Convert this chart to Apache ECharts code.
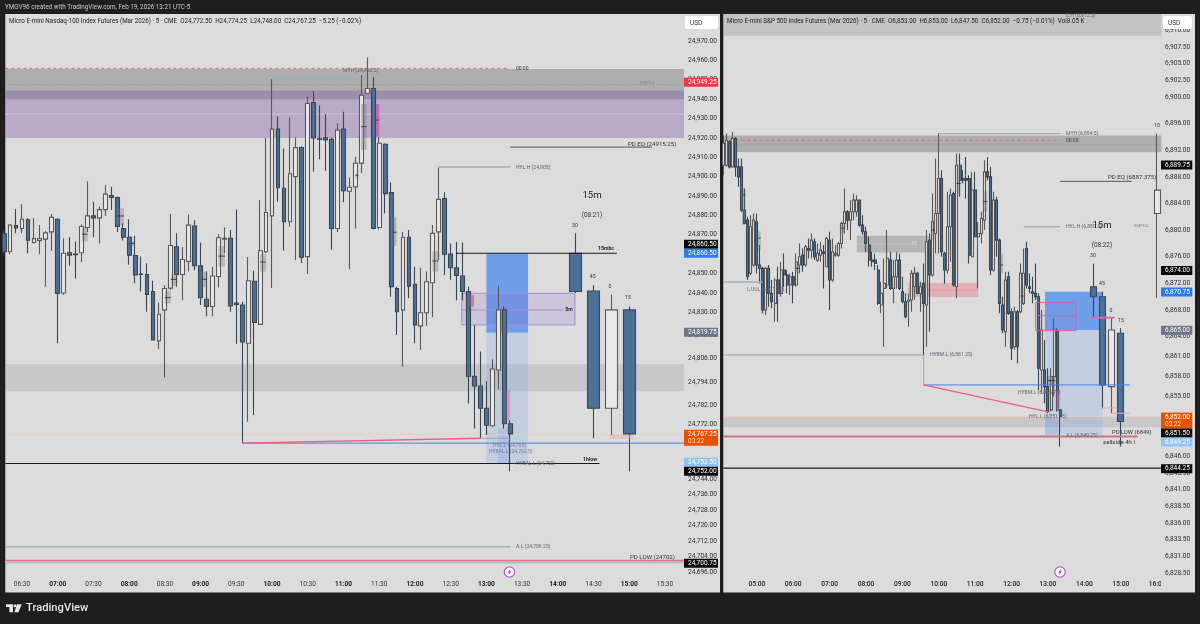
<!DOCTYPE html>
<html><head><meta charset="utf-8">
<style>html,body{margin:0;padding:0;background:#1e1e1e}#c{width:1200px;height:624px}</style>
<script src="https://cdn.jsdelivr.net/npm/echarts@6/dist/echarts.min.js"></script>
</head><body><div id="c"></div>
<script>
// time, open, close, low, high
const nqBars = [
['06:15',24870.5,24861.25,24859.5,24872.5],['06:20',24861.25,24875,24860,24875.5],['06:25',24874.75,24873.5,24870.75,24883.25],['06:30',24873.25,24878,24870.75,24885.75],
['06:35',24877.75,24867.25,24860.5,24878.5],['06:40',24866,24868,24865.5,24878.5],['06:45',24867,24868,24860,24875],['06:50',24867.75,24871,24843.25,24872],
['06:55',24871.5,24879,24861.75,24880.75],['07:00',24878,24839.75,24814,24878.5],['07:05',24840,24860.5,24839,24868.25],['07:10',24860.75,24859.5,24854,24868.75],
['07:15',24860,24859.75,24847.5,24866.5],['07:20',24860.75,24874.25,24856,24875.5],['07:25',24873.75,24879.75,24871.5,24897.5],['07:30',24879.75,24878.75,24868.75,24887],
['07:35',24878.75,24883,24865.5,24884.5],['07:40',24883,24891,24879.75,24895.75],['07:45',24890.25,24889.25,24882.75,24894.75],['07:50',24889.25,24874.25,24871.5,24889.75],
['07:55',24873.25,24868.75,24867,24876],['08:00',24868.75,24859.5,24854.5,24878],['08:05',24859.25,24849.25,24845,24869.5],['08:10',24849.75,24849.5,24840.75,24858.75],
['08:15',24849.5,24839.25,24830.25,24855.25],['08:20',24840.75,24815.75,24815.75,24846.25],['08:25',24815.25,24829,24811,24835],['08:30',24831.25,24842.25,24796.5,24844],
['08:35',24842.5,24864.5,24841.5,24880.75],['08:40',24863.75,24849.5,24843.25,24870.75],['08:45',24849.5,24857.25,24836.25,24863.75],['08:50',24856.25,24875,24851,24880.5],
['08:55',24874.5,24854,24851.75,24877.5],['09:00',24854,24837.5,24833.75,24866],['09:05',24836.75,24833,24828,24851],['09:10',24833,24848.75,24828,24853.5],
['09:15',24848.5,24868.5,24842.75,24870.25],['09:20',24867.75,24868.25,24860.5,24873.75],['09:25',24868.25,24833.25,24830.25,24872.5],['09:30',24834.75,24834,24813.75,24883],
['09:35',24833.75,24814.75,24762.5,24835.5],['09:40',24814,24846.25,24773.5,24858.5],['09:45',24846,24824.75,24777,24851.5],['09:50',24823.75,24861.75,24823.5,24888],
['09:55',24861.25,24881.5,24860.5,24920],['10:00',24879.75,24924.5,24842.5,24950.25],['10:05',24924.5,24894.25,24887,24931],['10:10',24894,24876.75,24861.75,24914.5],
['10:15',24876.75,24901.5,24874.25,24930.5],['10:20',24900,24915,24857,24920.25],['10:25',24915,24858.5,24855.5,24915.75],['10:30',24858.75,24937.75,24849.75,24941.25],
['10:35',24938.25,24920,24902.5,24944.25],['10:40',24919.5,24919.25,24909,24936.75],['10:45',24920,24919,24903,24932.25],['10:50',24919.25,24873.25,24862.25,24920.25],
['10:55',24873.25,24924,24871.5,24927.5],['11:00',24924.5,24892.75,24886.75,24933.5],['11:05',24892.5,24894.5,24852.25,24899.5],['11:10',24894.75,24907,24873.25,24910.25],
['11:15',24907,24942,24901.75,24952.5],['11:20',24943,24945.5,24942.75,24961.5],['11:25',24945.5,24873.25,24872.75,24951.25],['11:30',24873.75,24917.25,24872.75,24920.5],
['11:35',24916.75,24891.25,24881,24917.25],['11:40',24891.75,24843.25,24838,24897],['11:45',24842.25,24830.25,24818.25,24843.25],['11:50',24831.25,24868.75,24802,24871.5],
['11:55',24868.75,24843.5,24837.25,24872.5],['12:00',24844.5,24823.5,24814,24853.5],['12:05',24823,24829.75,24810.5,24853],['12:10',24829.75,24845.75,24823,24851],
['12:15',24845.25,24870.75,24827.5,24875],['12:20',24871.5,24888.25,24857,24904.75],['12:25',24888.75,24860,24849.25,24892],['12:30',24860,24853,24846.75,24865.5],
['12:35',24853,24849,24836.25,24866.25],['12:40',24848.75,24840.75,24836.25,24866],['12:45',24840.75,24797,24783,24843.25],['12:50',24797,24792,24770,24823.5],
['12:55',24792,24780.5,24765,24809.75],['13:00',24780.5,24771.75,24766.75,24794.25],['13:05',24771.5,24800.75,24771,24805.75],['13:10',24800.25,24831.25,24790.25,24844],
['13:15',24831.25,24772.5,24770,24833],['13:20',24772.5,24767.25,24748,24774.25]
];
const nqBars15m = [
['14:15',24860.5,24840.75,24840,24870.75],['14:30',24841,24780.5,24765,24844],['14:45',24780.5,24831.25,24766.75,24839],['15:00',24831.25,24767.25,24748,24833]
];
const esBars = [
['04:05',6889.75,6893,6888.25,6894.25],['04:10',6889.75,6893.5,6889.5,6894.5],['04:15',6893.25,6889.5,6889.25,6893.5],['04:20',6889.5,6893.75,6889.5,6894.75],
['04:25',6893.75,6889.5,6888,6894],['04:30',6889.5,6888,6886.5,6890.75],['04:35',6889.5,6883,6882.75,6890.75],['04:40',6883,6881,6881,6886.25],
['04:45',6881.5,6873,6872.5,6882],['04:50',6873.5,6880.5,6873.25,6882.25],['04:55',6874.75,6881.5,6874.5,6882.5],['05:00',6881.25,6874.75,6873.5,6882.5],
['05:05',6874.75,6874.25,6872,6877.75],['05:10',6874.25,6868,6867.5,6874.5],['05:15',6868,6874.25,6867.25,6874.5],['05:20',6874.25,6870.5,6868.5,6874.75],
['05:25',6870.5,6869.25,6868.25,6872.5],['05:30',6869,6872.5,6866.25,6872.75],['05:35',6872.5,6870.5,6866.25,6874.5],['05:40',6870.5,6874,6870,6875.25],
['05:45',6874,6873.25,6871.5,6876.5],['05:50',6873.25,6871.75,6870.5,6874],['05:55',6871.75,6873,6870.25,6873.5],['06:00',6873,6871.75,6869,6873.75],
['06:05',6871.75,6875.25,6871.5,6876.5],['06:10',6874.75,6876,6873.5,6878],['06:15',6876.25,6874.75,6873.75,6877.25],['06:20',6874.75,6877.5,6874.5,6877.75],
['06:25',6877.25,6877,6875.75,6878.75],['06:30',6877,6878.5,6875.75,6879.5],['06:35',6878.25,6876,6875.5,6878.75],['06:40',6875.5,6876.5,6875.25,6878],
['06:45',6876.25,6877,6875.25,6878.25],['06:50',6876.75,6876.5,6871.25,6877.75],['06:55',6874.5,6878.75,6874.5,6879],['07:00',6878.5,6872.5,6868,6879.75],
['07:05',6872.5,6876.75,6872.25,6878.75],['07:10',6876.25,6876.5,6876,6877.75],['07:15',6876.25,6878,6876,6878.25],['07:20',6878,6881,6877.25,6881.25],
['07:25',6881,6882.75,6879.5,6886.25],['07:30',6882.75,6881.5,6880,6883],['07:35',6881.5,6882.75,6878.5,6884.5],['07:40',6882.75,6884.5,6881.5,6885.5],
['07:45',6882.75,6884.5,6882,6885.25],['07:50',6884.5,6880.75,6880.5,6884.5],['07:55',6880.75,6879.75,6879.25,6882.25],['08:00',6879.75,6878,6876.75,6880.5],
['08:05',6877.75,6875.5,6874.5,6879],['08:10',6875.5,6875.25,6874.5,6876.75],['08:15',6875.5,6875,6874,6876.5],['08:20',6874,6869,6868.75,6874.75],
['08:25',6868.75,6870.5,6867.5,6872.25],['08:30',6871.25,6872,6862.5,6875.75],['08:35',6871.75,6875.75,6871.25,6880],['08:40',6875.5,6871.25,6871,6876.75],
['08:45',6871.25,6873,6869,6875.5],['08:50',6873,6875.5,6871.25,6876.75],['08:55',6875.5,6871.25,6871,6876.5],['09:00',6870.75,6869.25,6869,6873],
['09:05',6869.25,6867,6866.75,6870.5],['09:10',6869.25,6869.5,6865.5,6870.5],['09:15',6869.5,6873.5,6867.75,6874],['09:20',6871.5,6873.5,6869.5,6874.5],
['09:25',6873.5,6870.5,6870.5,6873.75],['09:30',6870.5,6871.5,6867.75,6872.25],['09:35',6872,6869,6861.25,6875],['09:40',6868.75,6878.25,6862.5,6880],
['09:45',6878.5,6873.25,6864.75,6879.5],['09:50',6873.25,6881.25,6873,6885.5],['09:55',6879.5,6882.5,6876.5,6890.75],['10:00',6882.5,6887.75,6876.5,6894.5],
['10:05',6887.75,6876.75,6876,6889],['10:10',6876.5,6874,6872,6876.75],['10:15',6874,6880.5,6873.5,6885.75],['10:20',6880.5,6885.25,6875.25,6886.25],
['10:25',6885.5,6871.75,6871.5,6885.75],['10:30',6871.5,6889.75,6869.75,6891.5],['10:35',6889.75,6887.5,6885,6891.5],['10:40',6887.75,6887.5,6887,6889],
['10:45',6887.75,6887.5,6884.75,6891],['10:50',6887.75,6876.25,6875,6888.25],['10:55',6876,6886,6876,6888.75],['11:00',6886,6879,6879,6888.75],
['11:05',6879,6879.5,6871.25,6881.25],['11:10',6879.5,6881.75,6878,6882.75],['11:15',6881.5,6888.75,6880,6890.5],['11:20',6888.75,6888,6887.5,6891],
['11:25',6888,6874,6873.25,6889.5],['11:30',6874,6884.5,6873.75,6885.75],['11:35',6884.5,6878.5,6876,6885],['11:40',6878.5,6869,6867.5,6878.75],
['11:45',6868.75,6865,6864.5,6870],['11:50',6864.75,6872.5,6862.5,6873.75],['11:55',6873,6867.5,6867.25,6873.75],['12:00',6867.75,6862.25,6860.5,6868.25],
['12:05',6862.5,6867.75,6862,6868.5],['12:10',6867.75,6862.5,6860,6868],['12:15',6867.75,6873.5,6867.5,6875],['12:20',6869,6873.5,6868.75,6877.25],
['12:25',6877.25,6871.75,6871.25,6878.25],['12:30',6871.5,6871.25,6870.5,6873.5],['12:35',6870.75,6870.5,6869,6873],['12:40',6870.5,6870,6869.5,6875],
['12:45',6870,6859.25,6856,6870.5],['12:50',6859,6865,6855.5,6868],['12:55',6859,6856.5,6854,6863.5],['13:00',6856.5,6852.75,6852.5,6859.25],
['13:05',6853,6858,6852.75,6859.25],['13:10',6858,6865,6855,6866.75],['13:15',6864.75,6853,6852.75,6865.25],['13:20',6853,6852,6847.5,6853]
];
const esBars15m = [
['14:15',6871.5,6870,6867,6875],['14:30',6870,6856.75,6853.25,6870.75],['14:45',6856.5,6865,6852.5,6866.75],['15:00',6864.5,6851.25,6847.5,6865.25],['16:00',6882.5,6886,6869.75,6894.5]
];
const nqTimeTicks = ['06:30','07:00','07:30','08:00','08:30','09:00','09:30','10:00','10:30','11:00','11:30','12:00','12:30','13:00','13:30','14:00','14:30','15:00','15:30'];
const esTimeTicks = ['05:00','06:00','07:00','08:00','09:00','10:00','11:00','12:00','13:00','14:00','15:00','16:00'];
const nqPriceTicks = [24970,24960,24950,24940,24930,24920,24910,24900,24890,24880,24870,24860,24850,24840,24830,24818,24806,24794,24782,24772,24764,24744,24736,24728,24720,24712,24704,24696];
const esPriceTicks = [6910,6907.5,6905,6902.5,6900,6896,6892,6888,6884,6880,6876,6872,6868,6864,6861,6858,6855,6846,6843.5,6841,6838.5,6836,6833.5,6831,6828.5];
const nqTitle = 'Micro E-mini Nasdaq-100 Index Futures (Mar 2026) · 5 · CME  O24,772.50  H24,774.25  L24,748.00  C24,767.25  −5.25 (−0.02%)';
const esTitle = 'Micro E-mini S&P 500 Index Futures (Mar 2026) · 5 · CME  O6,853.00  H6,853.00  L6,847.50  C6,852.00  −0.75 (−0.01%)  Vol8.05 K';

// Annotation boxes and lines: [kind, from-time (min), to-time (min), price, price]
const nqBelow = [
['band',376,946,24955.5,24940],['purple',376,946,24944.4,24920],['sheen',376,946,24932.3,24932.3],['dotted',376,946,24947.5,24947.5],
['redDash',376,797,24955.9,24955.9],['bandLight',376,946,24803.25,24789.25],
['boxBlue',780,815,24860.5,24819.5],['boxPale',780,815,24819.5,24752],['boxPale2',789.5,800,24770,24752],
['boxPurple',759.3,854.4,24839.8,24823.5],['linePurple',759.3,844.4,24831.2,24831.2],
['lastLine',376,946,24767,24767]
];
const nqAbove = [
['lineSteel',600,675,24950.25,24950.25],['lineSteel',740,800,24905,24905],['lineGrey',800,919,24915.25,24915.25],
['lineBlack',754.5,889.7,24860.5,24860.5],['lineBlack',376,875,24752,24752],
['lineBlue',575,946,24762.5,24762.5],['linePink',575,775,24762.5,24765],['lineThin',775,800,24765,24765],
['lineSteel',376,800,24709,24709],['lineSilver',376,946,24701,24701],['lineRed',376,946,24702,24702],
['linePinkPale',884,903.5,24766.3,24766.3],['linePinkPale',884,903.5,24765.2,24765.2],
['boxPink',766.8,769.6,24838.9,24832.9],['boxPinkPale',797,800,24789.9,24774.4]
];
// Faint higher-timeframe candles: [from, to, top, bottom, close tick]
const nqGhosts = [
[440.4,445.2,24873.9,24866.5,24870.3],[470,475.7,24883.7,24875,24879.7],[480,485,24866.5,24864.2,24865.6],[510,515,24841,24834.6,24837.6],
[515,520,24849.8,24843.6,24847],[541,545.4,24851,24843,24847],[555,560.5,24864.2,24853.6,24859],[590,595,24860,24851,24856],
[670,672.5,24901.7,24899.1,24900.7],[674.7,679.5,24937.5,24913.8,24925.8],[701.3,704.7,24879,24864.2,24871.3],[734.6,739.7,24861.6,24851,24856.5]
];
const nqPinkGhosts = [[687.3,690,24937.5,24920.6,24929.2]];
const esBelow = [
['bandStrip',245,967,6912.5,6909.2],['band',245,967,6894.2,6891.7],['dotted',245,967,6892.9,6892.9],['redDash',245,800,6893.5,6893.5],
['bandLight',245,967,6851.9,6850.4],['boxGrey',465,582,6879.15,6876.65],['sheen',465,559,6877.9,6877.9],
['boxRed',549,665,6872.05,6869.95],['lineRedPale',549,665,6871,6871],
['boxBlue',775,870,6870.75,6865],['boxPale',775,870,6865,6849.25],['boxPale2',775,796.5,6852,6849.25],
['lastLine',245,967,6852,6852]
];
const esAbove = [
['lineSteel',600,800,6894.5,6894.5],['lineSteel',740,800,6880.5,6880.5],['lineGrey',800,918,6887.33,6887.33],
['lineSteel',245,308.6,6872.2,6872.2],['lineThinSteel',245,575,6861.25,6861.25],['lineThin',575,575,6861.25,6856.75],
['lineBlue',575,915,6856.75,6856.75],['linePink',575,780,6856.75,6852.7],
['lineBrick',245,928,6849,6849],['lineBlack',245,967,6844.25,6844.25],
['boxPinkLine',759.7,826,6869.15,6864.9],['linePinkMid',759.7,826,6867.15,6867.15],['linePurpleThick',849,890,6866.85,6866.85],
['linePinkPale',869,894,6853.3,6853.3],['linePinkPale',885,915,6852.5,6852.5],['boxPinkPale',794,800,6856,6853]
];
const esGhosts = [
[439,445,6880.9,6879.5,6880.3],[364.6,370,6875.25,6873.5,6874.25],[673,680,6885.8,6882.8,6884.3],[735,740,6871.5,6869,6870.1],
[588,593,6881.3,6878.5,6880],[629.5,636,6889.8,6885.3,6887],[275.6,281,6886.3,6880.8,6885.3],[302,306.5,6879.8,6877,6878.8],
[780,792,6858.1,6856.5,6857.4],[701,706,6876.5,6873.5,6874.75]
];

const STYLES = {
  band:{fill:'rgba(100,100,100,.38)'}, bandStrip:{fill:'rgba(120,120,120,.25)'}, bandLight:{fill:'rgba(120,120,120,.2)'},
  purple:{fill:'rgba(132,95,170,.4)'}, sheen:{line:1,stroke:'rgba(255,255,255,.2)',w:1.5},
  dotted:{line:1,stroke:'rgba(90,90,90,.4)',w:.8,dash:[1,2]}, redDash:{line:1,stroke:'#ee5b66',w:1,dash:[3,3]},
  boxBlue:{fill:'#709fe9'}, boxPale:{fill:'rgba(120,165,235,.25)'}, boxPale2:{fill:'rgba(90,140,225,.18)'},
  boxPurple:{fill:'rgba(125,85,205,.17)',stroke:'#a78ed8',w:1}, linePurple:{line:1,stroke:'#a78ed8',w:1.2},
  boxGrey:{fill:'rgba(110,110,110,.35)'}, boxRed:{fill:'rgba(240,90,105,.33)'}, lineRedPale:{line:1,stroke:'rgba(240,110,120,.4)',w:1},
  lastLine:{line:1,stroke:'#e9cdbd',w:.8},
  lineSteel:{line:1,stroke:'#a2adba',w:1.4}, lineGrey:{line:1,stroke:'#555',w:1}, lineBlack:{line:1,stroke:'#1a1a1a',w:1.1},
  lineBlue:{line:1,stroke:'#4a80e6',w:1}, linePink:{line:1,stroke:'#ee5a8e',w:1.3}, lineThin:{line:1,stroke:'#8b97a3',w:.8},
  lineThinSteel:{line:1,stroke:'#8d9aa8',w:.9}, lineSilver:{line:1,stroke:'#b4bbc3',w:2.4}, lineRed:{line:1,stroke:'#ef6a80',w:1.1},
  lineBrick:{line:1,stroke:'#c5767c',w:1.8}, linePinkPale:{line:1,stroke:'#eba8bb',w:1},
  boxPink:{fill:'#d675ae'}, boxPinkPale:{fill:'rgba(205,120,190,.55)'}, boxPinkLine:{fill:'rgba(220,60,140,.05)',stroke:'#de5fa2',w:1},
  linePinkMid:{line:1,stroke:'#de5fa2',w:1}, linePurpleThick:{line:1,stroke:'#cc6fb4',w:2},
  ghost:{fill:'rgba(110,110,110,.33)'}, ghostPink:{fill:'rgba(210,70,160,.7)'}, tick:{line:1,stroke:'#2b2b2b',w:.8}
};

const minutes = s => { const [h,m]=s.split(':').map(Number); return h*60+m; };
const barRows = rows => rows.map(r => [minutes(r[0]),r[1],r[2],r[3],r[4]]);
const ghostRows = (rows,kind) => rows.flatMap(g => [[kind,g[0],g[1],g[2],g[3]],['tick',g[0],g[1],g[4],g[4]]]);

function shapes(items, idx, z){
  return {type:'custom', xAxisIndex:idx, yAxisIndex:idx, z, silent:true, animation:false, clip:true,
    data: items.map(it => it.slice(1)), encode:{x:[0,1], y:[2,3]},
    renderItem(p, api){
      const a = api.coord([api.value(0),api.value(2)]), b = api.coord([api.value(1),api.value(3)]);
      const st = STYLES[items[p.dataIndex][0]];
      if (st.line) return {type:'line', shape:{x1:a[0],y1:a[1],x2:b[0],y2:b[1]}, style:{stroke:st.stroke,lineWidth:st.w,lineDash:st.dash||null,fill:null}};
      return {type:'rect', shape:{x:Math.min(a[0],b[0]),y:Math.min(a[1],b[1]),width:Math.abs(b[0]-a[0]),height:Math.abs(b[1]-a[1])},
        style:{fill:st.fill,stroke:st.stroke||null,lineWidth:st.w||0}};
    }};
}
function candles(rows, idx, width, z){
  return {type:'candlestick', xAxisIndex:idx, yAxisIndex:idx, z, barWidth:width, animation:false, silent:true, data:barRows(rows),
    encode:{x:0,y:[1,2,3,4]},
    itemStyle:{color:'#e9e9e9',color0:'#4d7096',borderColor:'#5a5a5a',borderColor0:'#3a4652',borderWidth:1.1}};
}
const FONT='Roboto, "Liberation Sans", sans-serif';
const price = v => v.toLocaleString('en-US',{minimumFractionDigits:2,maximumFractionDigits:2});
const hhmm = v => String(Math.floor(v/60)).padStart(2,'0')+':'+String(v%60).padStart(2,'0');

function xAxis(idx,min,max,ticks,allBold){
  return {type:'value',gridIndex:idx,min,max,splitLine:{show:false},axisLine:{show:false},axisTick:{show:false},
    axisLabel:{customValues:ticks.map(minutes),margin:3,hideOverlap:false,fontFamily:FONT,fontSize:6.6,color:'#333',
      formatter:v=>{const s=hhmm(v);return (v%60===0)?'{b|'+s+'}':s;},
      rich:{b:{fontWeight:allBold?500:700,fontSize:6.6,fontFamily:FONT,color:'#222'}}}};
}
function yAxis(idx,min,max,ticks){
  return {type:'value',gridIndex:idx,position:'right',min,max,scale:true,splitLine:{show:false},axisLine:{show:false},axisTick:{show:false},
    axisLabel:{customValues:ticks,margin:4,hideOverlap:false,fontFamily:FONT,fontSize:6.6,color:'#2c2c2c',formatter:price}};
}
const el = [];
const rect=(x,y,w,h,fill,z,r)=>el.push({type:'rect',shape:{x,y,width:w,height:h,r:r||0},style:{fill},z,silent:true});
const text=(x,y,t,size,fill,opt={})=>el.push({type:'text',x,y,z:opt.z||40,silent:true,style:{text:t,fill,font:(opt.w||'normal')+' '+size+'px '+FONT,textAlign:opt.a||'left',textVerticalAlign:'middle'}});
const tag=(x0,w,y,h,bg,fg,lines)=>{rect(x0,y-h/2,w,h,bg,45);lines.forEach((l,i)=>text(x0+4,y-(lines.length-1)*3.5+i*7,l,6.5,i?fg[1]:(Array.isArray(fg)?fg[0]:fg),{z:46}));};

// panels
rect(5.3,14,714.7,578.5,'#dcdcdc',-5);
rect(723.3,14,471.7,578.5,'#dcdcdc',-5);

// header / footer
text(5,7.5,'YMGV96 created with TradingView.com, Feb 19, 2026 13:21 UTC-5',6.3,'#cfcfcf');
text(9,21.5,nqTitle,6.27,'#222');
text(727,21.5,esTitle,6.27,'#222');
el.push({type:'polygon',z:40,silent:true,shape:{points:[[6,604.3],[13,604.3],[13,612.3],[9.3,612.3],[9.3,607],[6,607]]},style:{fill:'#e6e6e6'}});
el.push({type:'circle',z:40,silent:true,shape:{cx:15,cy:605.8,r:1.5},style:{fill:'#e6e6e6'}});
el.push({type:'polygon',z:40,silent:true,shape:{points:[[17,604.3],[21.7,604.3],[18.4,612.3],[14.3,612.3]]},style:{fill:'#e6e6e6'}});
text(26,608.5,'TradingView',11.2,'#e6e6e6',{w:'500'});

// USD buttons
[685,1163].forEach(x=>{rect(x,16,x<1000?33:29,13,'#fff',44,2);text(x+5,23,'USD',6.5,'#333',{z:46});});

// price tags
const LX=684,LW=34,RX=1161,RW=31.3;
tag(LX,LW,82.2,9,'#f23645','#fff',['24,949.25']);
tag(LX,LW,244.3,9,'#0a0a0a','#fff',['24,860.50']);
tag(LX,LW,253.3,9,'#2a7bf0','#fff',['24,860.50']);
tag(LX,LW,332.3,9,'#6f7585','#fff',['24,819.75']);
tag(LX,LW,437.8,16,'#e65100',['#fff','#ffd9bf'],['24,767.25','03:22']);
tag(LX,LW,462.3,9,'#90c2f6','#fff',['24,752.50']);
tag(LX,LW,471.2,9,'#0a0a0a','#fff',['24,752.00']);
tag(LX,LW,563.3,9,'#0a0a0a','#fff',['24,700.75']);
tag(RX,RW,165,9,'#0a0a0a','#fff',['6,889.75']);
tag(RX,RW,270.5,9,'#0a0a0a','#fff',['6,874.00']);
tag(RX,RW,292,9,'#2a7bf0','#fff',['6,870.75']);
tag(RX,RW,330.3,9,'#6f7585','#fff',['6,865.00']);
tag(RX,RW,420.6,16,'#e65100',['#fff','#ffd9bf'],['6,852.00','03:22']);
tag(RX,RW,433,9,'#0a0a0a','#fff',['6,851.50']);
tag(RX,RW,442,9,'#90c2f6','#fff',['6,849.25']);
tag(RX,RW,468.7,9,'#0a0a0a','#fff',['6,844.25']);
// clip of the last time label
rect(1161,580,10,10,'#dcdcdc',30);

// annotations left
const G='#5d6670', S=5.1;
text(343,71,'MYH (24,960.5)',S,'#666');
text(516,69,'00:00',5,'#444');
text(640,83,'EMPDA',4.4,'#8a8a8a');
text(628,144,'PD EQ (24915.25)',6.1,'#333');
text(516,167.5,'HYL.H (24,905)',S,G);
text(592,196,'15m',9.6,'#222',{a:'center'});
text(592,215.5,'(08:21)',6.4,'#333',{a:'center'});
text(575,225.5,'30',5.2,'#333',{a:'center'});
text(592.7,277,'45',5.2,'#333',{a:'center'});
text(610,286.5,'0',5.2,'#333',{a:'center'});
text(628,298,'15',5.2,'#333',{a:'center'});
text(606,248.5,'15mbc',5.2,'#222',{a:'center',w:'bold'});
text(569,310,'5m',5.2,'#222',{a:'center',w:'bold'});
text(493,446,'HYL.L (24,765)',5,'#6d7c90');
text(489,451.3,'HYBAL.L (24,762.5)',5,'#6d7c90');
text(516,463.5,'HYBAL.L (24,750)',5,G);
text(583,459.5,'1hlow',5.2,'#222',{w:'bold'});
text(516,547,'A.L (24,709.25)',S,G);
text(630,557,'PD LOW (24702)',6.1,'#333');
// annotations right
text(1066,15.5,'E.H (6,912.5)',S,G);
text(1066,133.5,'MYH (6,894.5)',S,G);
text(1066,140.5,'00:00',5,'#444');
text(1108,177.5,'PD EQ (6887.375)',6.1,'#333');
text(1066,226.5,'HYL.H (6,880.5)',S,G);
text(1134,226,'EMPDA',4.4,'#8a8a8a');
text(1102,226,'15m',9.6,'#222',{a:'center'});
text(1102,245.5,'(08:22)',6.4,'#333',{a:'center'});
text(1093,255.5,'30',5.2,'#333',{a:'center'});
text(1102,284,'45',5.2,'#333',{a:'center'});
text(1111,310.5,'0',5.2,'#333',{a:'center'});
text(1121,320.5,'15',5.2,'#333',{a:'center'});
text(1157,126,'10',5.2,'#333',{a:'center'});
text(747,289.6,'L.UUL (6,871.25)',5,G);
text(930,355,'HYBM.L (6,861.25)',S,G);
text(1018,393,'HYBM.L (6,855.75)',S,G);
text(1029,416.5,'HYL.L (6,851.75)',S,G);
text(1066,435.5,'A.L (6,849.25)',S,G);
text(1112,433,'PD LOW (6849)',5.8,'#333');
text(1103,442,'sellside 4h l',6.1,'#333');
text(914,244,'15',5.2,'#d8d8d8',{a:'center'});

// flash icons
[[509.5,572],[1060,572]].forEach(([cx,cy])=>{
  el.push({type:'circle',z:40,silent:true,shape:{cx,cy,r:5.2},style:{fill:'#fff',stroke:'#c052d2',lineWidth:1.2}});
  el.push({type:'polygon',z:41,silent:true,shape:{points:[[cx+1.2,cy-3.2],[cx-2,cy+.6],[cx-.3,cy+.6],[cx-1.2,cy+3.2],[cx+2,cy-.8],[cx+.2,cy-.8]]},style:{fill:'#b83fcb'}});
});

const option = {
  animation:false, backgroundColor:'#1e1e1e', textStyle:{fontFamily:FONT},
  graphic:{elements:el},
  grid:[
    {left:5.5,top:14,width:678.5,height:564,outerBoundsMode:'none'},
    {left:723.5,top:14,width:437.5,height:564,outerBoundsMode:'none'}
  ],
  xAxis:[xAxis(0,376.14,945.98,nqTimeTicks,false),xAxis(1,245.1,966.3,esTimeTicks,true)],
  yAxis:[yAxis(0,24692.9,24983.93,nqPriceTicks),yAxis(1,6827.75,6912.46,esPriceTicks)],
  series:[
    shapes(nqBelow,0,1),
    candles(nqBars,0,4.3,3), candles(nqBars15m,0,12,3),
    shapes(nqAbove.concat(ghostRows(nqGhosts,'ghost'),ghostRows(nqPinkGhosts,'ghostPink')),0,4),
    shapes(esBelow,1,1),
    candles(esBars,1,2.5,3), candles(esBars15m,1,6.5,3),
    shapes(esAbove.concat(ghostRows(esGhosts,'ghost')),1,4)
  ]
};
const chart = echarts.init(document.getElementById('c'),null,{renderer:'canvas',width:1200,height:624});
chart.setOption(option);
</script></body></html>
